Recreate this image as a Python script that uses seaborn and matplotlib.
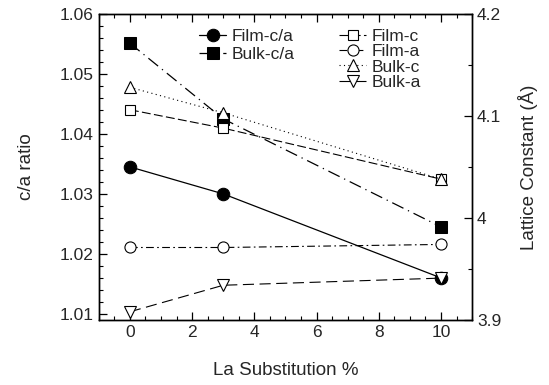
import matplotlib
matplotlib.use('Agg')
import matplotlib.pyplot as plt
import seaborn as sns
from matplotlib.ticker import MultipleLocator

# La substitution (%)
la_pct = [0, 3, 10]

# c/a ratio (left axis)
film_ca = [1.0345, 1.0300, 1.0160]
bulk_ca = [1.0551, 1.0425, 1.0245]

# lattice constants in Angstrom (right axis)
film_c = [4.106, 4.088, 4.038]
film_a = [3.971, 3.971, 3.974]
bulk_c = [4.128, 4.103, 4.038]
bulk_a = [3.908, 3.934, 3.941]

sns.set_style('ticks')
plt.rcParams['font.family'] = ['Liberation Sans', 'DejaVu Sans']

fig = plt.figure(figsize=(5.49, 3.85), dpi=100)
ax = fig.add_axes([0.180, 0.169, 0.680, 0.795])
ax2 = ax.twinx()

k = 'black'
sns.lineplot(x=la_pct, y=film_ca, ax=ax, color=k, lw=0.9, marker='o', ms=9,
             mfc=k, mec=k, linestyle='-', label='Film-c/a')
sns.lineplot(x=la_pct, y=bulk_ca, ax=ax, color=k, lw=0.9, marker='s', ms=9,
             mfc=k, mec=k, linestyle=(0, (10, 4, 1, 4)), label='Bulk-c/a')

sns.lineplot(x=la_pct, y=film_c, ax=ax2, color=k, lw=0.8, marker='s', ms=7,
             mfc='white', mec=k, mew=0.8, linestyle=(0, (8, 3)), label='Film-c')
sns.lineplot(x=la_pct, y=film_a, ax=ax2, color=k, lw=0.8, marker='o', ms=8,
             mfc='white', mec=k, mew=0.8, linestyle=(0, (7, 3, 1.5, 3)), label='Film-a')
sns.lineplot(x=la_pct, y=bulk_c, ax=ax2, color=k, lw=0.8, marker='^', ms=8,
             mfc='white', mec=k, mew=0.8, linestyle=(0, (1, 3)), label='Bulk-c')
sns.lineplot(x=la_pct, y=bulk_a, ax=ax2, color=k, lw=0.8, marker='v', ms=8,
             mfc='white', mec=k, mew=0.8, linestyle=(0, (10, 5)), label='Bulk-a')

ax.set_xlim(-1, 11)
ax.set_ylim(1.009, 1.06)
ax2.set_ylim(3.9, 4.2)

ax.xaxis.set_major_locator(MultipleLocator(2))
ax.xaxis.set_minor_locator(MultipleLocator(0.5))
ax.yaxis.set_major_locator(MultipleLocator(0.01))
ax.yaxis.set_minor_locator(MultipleLocator(0.002))
ax2.yaxis.set_major_locator(MultipleLocator(0.1))
ax2.yaxis.set_minor_locator(MultipleLocator(0.05))
ax.yaxis.set_major_formatter(plt.FormatStrFormatter('%.2f'))
ax2.yaxis.set_major_formatter(plt.FuncFormatter(lambda v, p: f'{v:g}'))

ax.tick_params(axis='x', which='both', direction='in', top=True, labelsize=12.5)
ax.tick_params(axis='y', which='both', direction='in', labelsize=12.5)
ax2.tick_params(axis='y', which='both', direction='in', labelsize=12.5)
for a in (ax, ax2):
    a.tick_params(which='major', length=6, width=0.9, color=k)
    a.tick_params(which='minor', length=3, width=0.8, color=k)
    for s in a.spines.values():
        s.set_linewidth(1.0)
        s.set_color(k)

ax.set_xlabel('La Substitution %', fontsize=13.5, labelpad=16)
ax.set_ylabel('c/a ratio', fontsize=13.5, labelpad=18)
ax2.set_ylabel('Lattice Constant (\u00c5)', fontsize=13.5, labelpad=12)

ax.legend(loc='upper left', bbox_to_anchor=(0.235, 0.99), frameon=False,
          fontsize=12.5, handlelength=1.6, handletextpad=0.3, labelspacing=0.15,
          borderpad=0.2)
ax2.legend(loc='upper left', bbox_to_anchor=(0.61, 0.99), frameon=False,
           fontsize=12.5, handlelength=1.6, handletextpad=0.3, labelspacing=0.0,
           borderpad=0.2)

fig.savefig('out.png', dpi=100)
plt.close()
